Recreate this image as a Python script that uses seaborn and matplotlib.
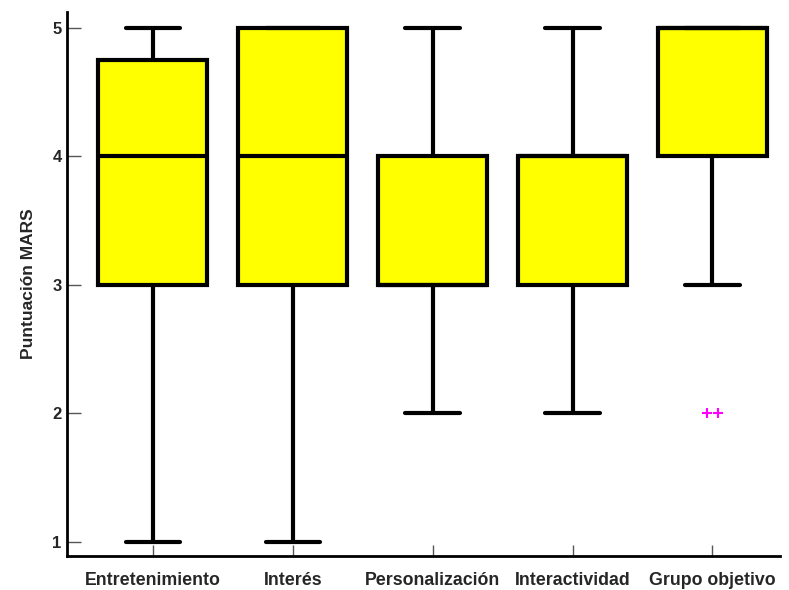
import numpy as np
import pandas as pd
import matplotlib.pyplot as plt
import seaborn as sns

# MARS item scores (1-5) per dimension
categories = ["Entretenimiento", "Interés", "Personalización", "Interactividad", "Grupo objetivo"]
entretenimiento = [1, 2, 3, 3, 4, 4, 4, 5, 5, 5]
interes = [1, 2, 3, 3, 4, 5, 5, 5, 5]
personalizacion = [2, 3, 3, 3, 3, 4, 4, 4, 5]
interactividad = [2, 3, 3, 3, 4, 4, 4, 4, 5]
grupo_objetivo = [2, 2, 3, 4, 4, 4, 5, 5, 5, 5, 5, 5, 5]
y_ticks = [1, 2, 3, 4, 5]

series = [entretenimiento, interes, personalizacion, interactividad, grupo_objetivo]
df = pd.DataFrame({
    "dim": np.repeat(categories, [len(s) for s in series]),
    "score": np.concatenate(series),
})

# outliers by the 1.5*IQR rule; tied ones are spread a little sideways
rows = []
for i, (cat, s) in enumerate(zip(categories, series)):
    s = np.asarray(s)
    q1, q3 = np.percentile(s, [25, 75])
    iqr = q3 - q1
    fl = s[(s < q1 - 1.5 * iqr) | (s > q3 + 1.5 * iqr)]
    for v in np.unique(fl):
        n = (fl == v).sum()
        for k in range(n):
            rows.append({"x": i + (k - (n - 1) / 2) * 0.08, "score": v})
out = pd.DataFrame(rows)

sns.set_style("ticks")
plt.rcParams["font.family"] = ["Liberation Sans", "DejaVu Sans"]
plt.rcParams["font.weight"] = "bold"

fig = plt.figure(figsize=(7.89, 5.9), dpi=100)
ax = fig.add_axes([0.085, 0.058, 0.903, 0.922])

lw = 3
sns.boxplot(
    data=df, x="dim", y="score", order=categories, ax=ax,
    width=0.78, color="#FFFF00", linecolor="black", linewidth=lw,
    showfliers=False, saturation=1,
    boxprops=dict(facecolor="#FFFF00", edgecolor="black", linewidth=lw),
    medianprops=dict(color="black", linewidth=lw),
    whiskerprops=dict(color="black", linewidth=lw),
    capprops=dict(color="black", linewidth=lw),
)
sns.scatterplot(
    data=out, x="x", y="score", ax=ax,
    marker="+", color="#FF00FF", s=50, linewidth=1.5,
)

ax.set_xlim(-0.614, 4.48)
ax.set_ylim(0.891, 5.125)
ax.set_yticks(y_ticks)
ax.set_xticks(range(len(categories)))
ax.set_xticklabels(categories)
ax.set_xlabel("")
ax.set_ylabel("Puntuación MARS", fontsize=12.5, fontweight="bold", labelpad=12)
ax.tick_params(axis="x", direction="in", length=8, width=1, labelsize=12.8, pad=12, color="#555555")
ax.tick_params(axis="y", direction="in", length=10, width=1, labelsize=12, pad=4, color="#555555")
for lab in ax.get_xticklabels() + ax.get_yticklabels():
    lab.set_fontweight("bold")

for side in ["top", "right"]:
    ax.spines[side].set_visible(False)
for side in ["left", "bottom"]:
    ax.spines[side].set_linewidth(2)
    ax.spines[side].set_color("black")

fig.savefig("out.png", dpi=100)
